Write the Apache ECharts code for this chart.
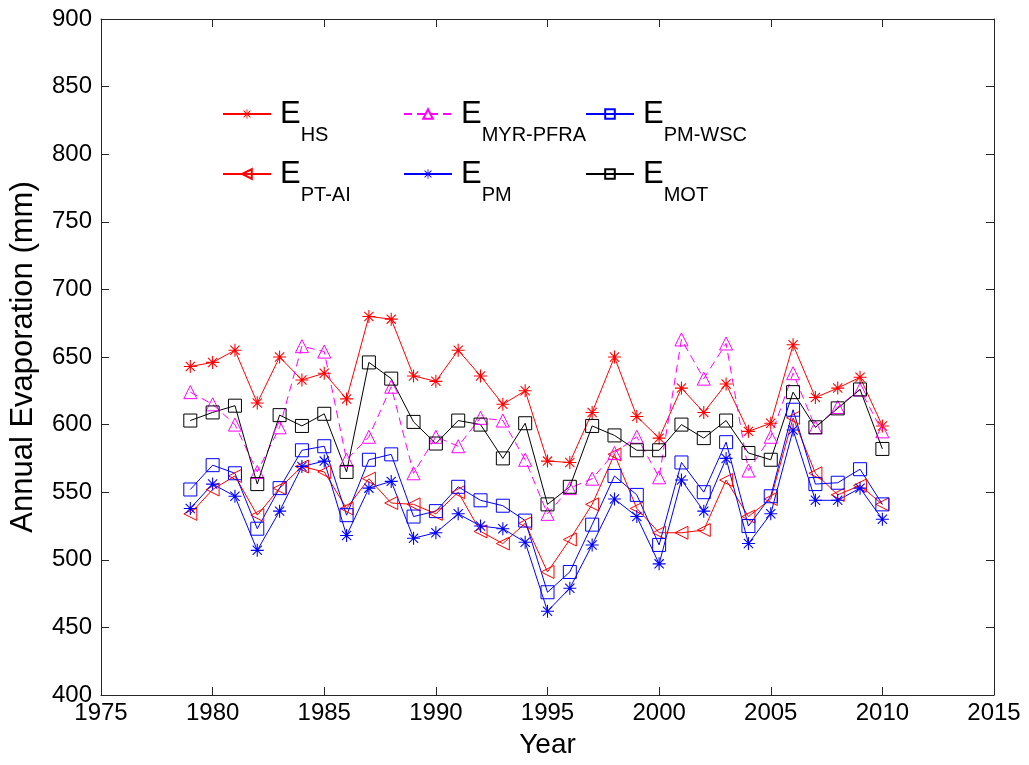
<!DOCTYPE html>
<html>
<head>
<meta charset="utf-8">
<script src="https://cdn.jsdelivr.net/npm/echarts@6/dist/echarts.min.js"></script>
<style>
html,body{margin:0;padding:0;background:#fff;}
#chart{width:1029px;height:765px;}
</style>
</head>
<body>
<div id="chart"></div>
<script>
var years = [1979,1980,1981,1982,1983,1984,1985,1986,1987,1988,1989,1990,1991,1992,1993,1994,1995,1996,1997,1998,1999,2000,2001,2002,2003,2004,2005,2006,2007,2008,2009,2010];
var eHS = [643,646,655,616,650,633,638,619,680,678,636,632,655,636,615,625,573,572,609,650,606,590,627,609,630,595,601,659,620,627,635,599];
var ePTAI = [534,552,562,533,553,569,565,538,560,542,541,534,550,521,512,527,491,515,541,578,538,520,520,522,559,532,545,605,564,548,555,541];
var eMYR = [624,615,600,565,598,658,654,574,591,628,564,591,584,605,603,574,534,553,560,579,591,561,663,634,660,566,591,638,598,613,626,595];
var ePM = [538,556,547,507,536,569,573,518,553,558,516,520,534,525,523,513,462,479,511,545,532,497,559,536,575,512,534,596,544,544,553,530];
var ePMWSC = [552,570,564,523,553,581,584,533,574,578,532,536,554,544,540,529,476,491,526,562,548,511,572,550,587,525,547,611,556,557,567,541];
var eMOT = [603,609,614,556,607,599,608,565,646,634,602,586,603,600,575,601,541,554,599,592,581,581,600,590,603,579,574,624,598,612,626,582];
var seriesNames = ['HS','PT-AI','MYR-PFRA','PM','PM-WSC','MOT'];
var xTicks = {min:1975, max:2015, interval:5};
var yTicks = {min:400, max:900, interval:50};

function pairs(arr){ return arr.map(function(v,i){ return [years[i], v]; }); }

var FONT = "'Liberation Sans', Arial, sans-serif";
var STAR = 'path://M0,11L24,11L24,13L0,13Z M11,0L13,0L13,24L11,24Z M2.8,4.2L4.2,2.8L21.2,19.8L19.8,21.2Z M19.8,2.8L21.2,4.2L4.2,21.2L2.8,19.8Z';

function mk(name, data, color, symbol, opts){
  opts = opts || {};
  var hollow = symbol !== STAR;
  return {
    name: name, type: 'line', data: pairs(data),
    color: color,
    symbol: symbol,
    symbolSize: opts.size || 13,
    symbolRotate: opts.rotate || 0,
    showAllSymbol: true,
    lineStyle: {color: color, width: 1, type: opts.dash ? [8,5] : 'solid'},
    itemStyle: hollow ? {color: 'rgba(255,255,255,0)', borderColor: color, borderWidth: 1} : {color: color, borderWidth: 0},
    emphasis: {disabled: true},
    animation: false
  };
}

var series = [
  mk('HS', eHS, '#ff0000', STAR, {size: 13}),
  mk('PT-AI', ePTAI, '#ff0000', 'triangle', {rotate: 90, size: 13}),
  mk('MYR-PFRA', eMYR, '#ff00ff', 'triangle', {dash: true, size: 13}),
  mk('PM', ePM, '#0000ff', STAR, {size: 13}),
  mk('PM-WSC', ePMWSC, '#0000ff', 'rect', {size: 13}),
  mk('MOT', eMOT, '#000000', 'rect', {size: 13})
];

var rich = {
  e: {fontSize: 31, fontFamily: FONT, color: '#000', lineHeight: 30, verticalAlign: 'top', padding: [0,0,0,4]},
  s: {fontSize: 20, fontFamily: FONT, color: '#000', lineHeight: 20, padding: [26,0,0,0], verticalAlign: 'top'}
};
function legendAt(name, left, top){
  return {
    data: [name], left: left, top: top, orient: 'horizontal',
    itemWidth: 48, itemHeight: 12, selectedMode: false,
    formatter: function(n){ return '{e|E}{s|' + n + '}'; },
    textStyle: {rich: rich}
  };
}
var legends = [
  legendAt('HS', 217, 94),
  legendAt('PT-AI', 217, 154),
  legendAt('MYR-PFRA', 398, 94),
  legendAt('PM', 398, 154),
  legendAt('PM-WSC', 580, 94),
  legendAt('MOT', 580, 154)
];

var axisLineStyle = {color: '#262626', width: 1};
function plain(v){ return String(v); }
var option = {
  backgroundColor: '#fff',
  animation: false,
  grid: {left: 101, right: 35, top: 19, bottom: 70, containLabel: false},
  legend: legends,
  xAxis: [{
    type: 'value', min: xTicks.min, max: xTicks.max, interval: xTicks.interval,
    position: 'bottom',
    name: 'Year', nameLocation: 'middle', nameGap: 36,
    nameTextStyle: {fontSize: 28, fontFamily: FONT, color: '#000'},
    axisLine: {show: true, lineStyle: axisLineStyle},
    axisTick: {show: true, inside: true, length: 8, lineStyle: axisLineStyle},
    axisLabel: {fontSize: 24, fontFamily: FONT, color: '#000', margin: 6, formatter: plain},
    splitLine: {show: false}
  },{
    type: 'value', min: xTicks.min, max: xTicks.max, interval: xTicks.interval,
    position: 'top',
    axisLine: {show: true, lineStyle: axisLineStyle},
    axisTick: {show: true, inside: true, length: 8, lineStyle: axisLineStyle},
    axisLabel: {show: false},
    splitLine: {show: false}
  }],
  yAxis: [{
    type: 'value', min: yTicks.min, max: yTicks.max, interval: yTicks.interval,
    position: 'left',
    name: 'Annual Evaporation (mm)', nameLocation: 'middle', nameGap: 62,
    nameTextStyle: {fontSize: 31, fontFamily: FONT, color: '#000'},
    axisLine: {show: true, lineStyle: axisLineStyle},
    axisTick: {show: true, inside: true, length: 8, lineStyle: axisLineStyle},
    axisLabel: {fontSize: 24, fontFamily: FONT, color: '#000', margin: 9, formatter: plain},
    splitLine: {show: false}
  },{
    type: 'value', min: yTicks.min, max: yTicks.max, interval: yTicks.interval,
    position: 'right',
    axisLine: {show: true, lineStyle: axisLineStyle},
    axisTick: {show: true, inside: true, length: 8, lineStyle: axisLineStyle},
    axisLabel: {show: false},
    splitLine: {show: false}
  }],
  series: series
};
var chart = echarts.init(document.getElementById('chart'), null, {renderer: 'canvas'});
chart.setOption(option);
</script>
</body>
</html>
